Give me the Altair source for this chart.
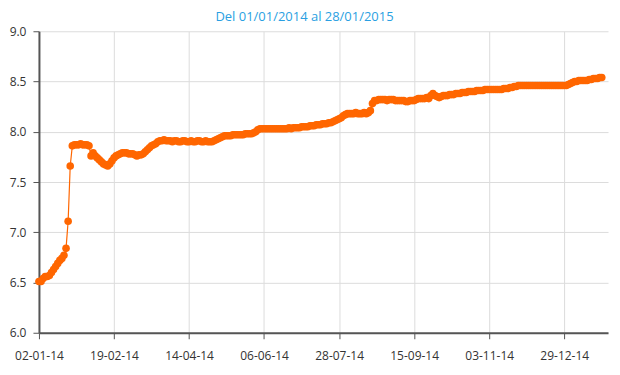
import altair as alt
import pandas as pd

title_text = "Del 01/01/2014 al 28/01/2015"

tick_labels = ["02-01-14", "19-02-14", "14-04-14", "06-06-14",
               "28-07-14", "15-09-14", "03-11-14", "29-12-14"]
tick_step = 36

values = [
    # 0-36
    6.51, 6.51, 6.54, 6.56, 6.56, 6.57, 6.60, 6.63, 6.66, 6.69,
    6.72, 6.74, 6.77, 6.84, 7.11, 7.66, 7.86, 7.87, 7.87, 7.87,
    7.88, 7.87, 7.87, 7.87, 7.86, 7.76, 7.79, 7.76, 7.74, 7.72,
    7.70, 7.68, 7.67, 7.66, 7.68, 7.71, 7.74,
    # 37-72
    7.76, 7.77, 7.78, 7.79, 7.79, 7.79, 7.78, 7.78, 7.78, 7.77,
    7.76, 7.77, 7.77, 7.78, 7.80, 7.82, 7.84, 7.86, 7.87, 7.88,
    7.90, 7.91, 7.91, 7.92, 7.91, 7.91, 7.91, 7.90, 7.91, 7.91,
    7.90, 7.90, 7.91, 7.91, 7.90, 7.90,
    # 73-107
    7.91, 7.90, 7.90, 7.91, 7.91, 7.90, 7.90, 7.91, 7.90, 7.90,
    7.90, 7.91, 7.92, 7.93, 7.94, 7.95, 7.96, 7.96, 7.96, 7.96,
    7.97, 7.97, 7.97, 7.97, 7.97, 7.97, 7.98, 7.98, 7.98, 7.98,
    7.99, 8.00, 8.02, 8.03, 8.03,
    # 108-148
    8.03, 8.03, 8.03, 8.03, 8.03, 8.03, 8.03, 8.03, 8.03, 8.03,
    8.03, 8.03, 8.04, 8.03, 8.04, 8.04, 8.04, 8.04, 8.05, 8.05,
    8.05, 8.05, 8.06, 8.06, 8.06, 8.07, 8.07, 8.07, 8.08, 8.08,
    8.08, 8.09, 8.09, 8.10, 8.11, 8.12, 8.13, 8.14, 8.16, 8.17,
    8.18,
    # 149-187
    8.18, 8.18, 8.18, 8.19, 8.18, 8.18, 8.18, 8.19, 8.18, 8.19,
    8.21, 8.28, 8.31, 8.31, 8.32, 8.32, 8.32, 8.32, 8.31, 8.32,
    8.32, 8.32, 8.31, 8.31, 8.31, 8.31, 8.31, 8.30, 8.30, 8.31,
    8.31, 8.31, 8.32, 8.33, 8.33, 8.33, 8.33, 8.34, 8.33,
    # 188-230
    8.36, 8.38, 8.36, 8.35, 8.34, 8.35, 8.36, 8.36, 8.36, 8.37,
    8.37, 8.37, 8.38, 8.38, 8.38, 8.39, 8.39, 8.39, 8.40, 8.40,
    8.40, 8.40, 8.41, 8.41, 8.41, 8.41, 8.42, 8.42, 8.42, 8.42,
    8.42, 8.42, 8.42, 8.42, 8.42, 8.43, 8.43, 8.43, 8.44, 8.44,
    8.45, 8.45, 8.46,
    # 231-270
    8.46, 8.46, 8.46, 8.46, 8.46, 8.46, 8.46, 8.46, 8.46, 8.46,
    8.46, 8.46, 8.46, 8.46, 8.46, 8.46, 8.46, 8.46, 8.46, 8.46,
    8.46, 8.46, 8.46, 8.47, 8.48, 8.49, 8.50, 8.50, 8.51, 8.51,
    8.51, 8.51, 8.51, 8.52, 8.52, 8.53, 8.53, 8.53, 8.54, 8.54,
]

y_ticks = [6.0, 6.5, 7.0, 7.5, 8.0, 8.5, 9.0]

df = pd.DataFrame({"i": list(range(len(values))), "v": values})

tick_vals = [tick_step * k for k in range(len(tick_labels))]
label_arr = "[" + ",".join("'" + t + "'" for t in tick_labels) + "]"
label_expr = label_arr + "[round(datum.value/" + str(tick_step) + ")]"

orange = "#FF6600"

base = alt.Chart(df).encode(
    x=alt.X("i:Q",
            scale=alt.Scale(domain=[0, 273], nice=False, zero=False),
            axis=alt.Axis(values=tick_vals, labelExpr=label_expr, title=None,
                          labelPadding=12, labelFlush=False)),
    y=alt.Y("v:Q",
            scale=alt.Scale(domain=[6, 9], nice=False, zero=False),
            axis=alt.Axis(values=y_ticks, format=".1f", title=None,
                          labelPadding=7, labelFlush=False)),
)

line = base.mark_line(color=orange, strokeWidth=1.2)
pts = base.mark_circle(color=orange, size=58, opacity=1)

chart = (line + pts).properties(
    width=570,
    height=302,
    title=alt.TitleParams(text=title_text, color="#2A9FE2", font="Open Sans",
                          fontSize=13, fontWeight="normal", anchor="middle",
                          dx=-19, offset=1),
    autosize=alt.AutoSizeParams(type="none"),
    padding={"left": 31, "top": 23, "right": 4, "bottom": 34},
).configure_view(stroke=None).configure_axis(
    labelFont="Open Sans",
    labelFontSize=12,
    labelColor="#333333",
    domainColor="#555555",
    domainWidth=2,
    tickColor="#555555",
    tickSize=6,
    gridColor="#dcdcdc",
    gridWidth=1,
    grid=True,
)

chart.save("out.html", embed_options={"renderer": "svg", "actions": False})
